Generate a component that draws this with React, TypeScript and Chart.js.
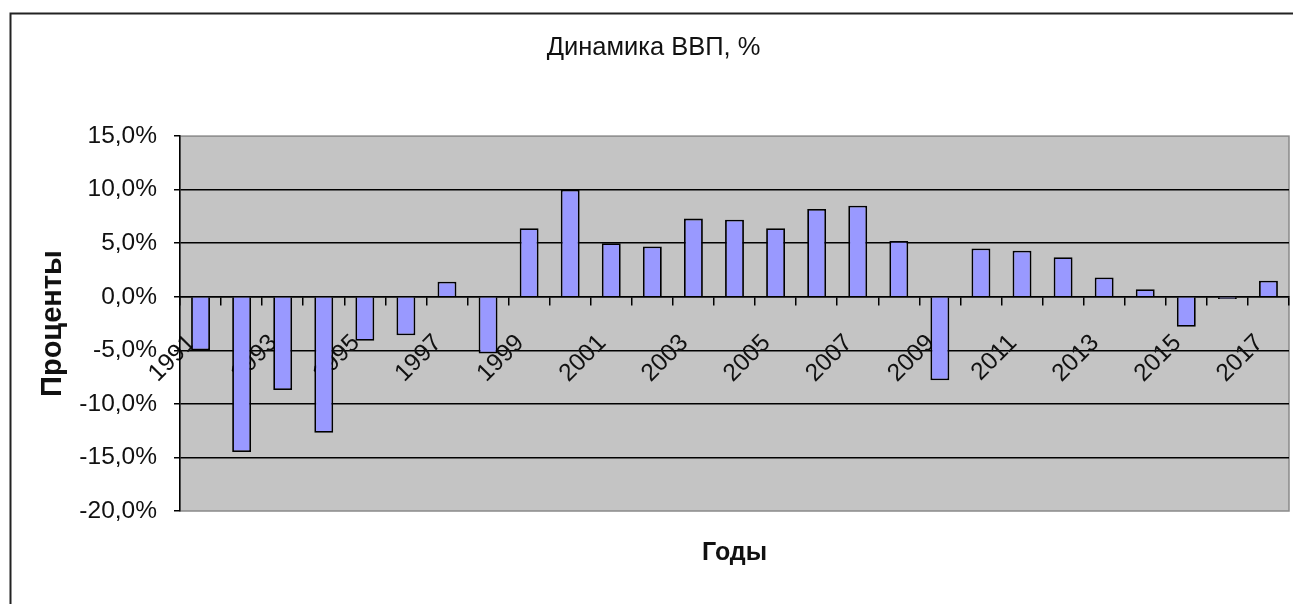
import React, { useEffect, useRef } from "react";
import { Chart, registerables } from "chart.js";

Chart.register(...registerables);

const years = [
  "1991", "1992", "1993", "1994", "1995", "1996", "1997", "1998", "1999", "2000",
  "2001", "2002", "2003", "2004", "2005", "2006", "2007", "2008", "2009", "2010",
  "2011", "2012", "2013", "2014", "2015", "2016", "2017",
];

const gdpGrowth = [
  -5.0, -14.5, -8.7, -12.7, -4.1, -3.6, 1.4, -5.3, 6.4, 10.0,
  5.0, 4.7, 7.3, 7.2, 6.4, 8.2, 8.5, 5.2, -7.8, 4.5,
  4.3, 3.7, 1.8, 0.7, -2.8, -0.2, 1.5,
];

const yMin = -20;
const yMax = 15;
const yStep = 5;

const titleText = "Динамика ВВП, %";
const xTitleText = "Годы";
const yTitleText = "Проценты";

const FONT = "'Liberation Sans', Arial, sans-serif";

const framePlugin = {
  id: "framePlugin",
  beforeDraw(chart: any) {
    const { ctx, chartArea } = chart;
    ctx.save();
    ctx.fillStyle = "#c4c4c4";
    ctx.fillRect(chartArea.left, chartArea.top, chartArea.right - chartArea.left, chartArea.bottom - chartArea.top);
    ctx.strokeStyle = "#8a8a8a";
    ctx.lineWidth = 1.5;
    ctx.strokeRect(chartArea.left, chartArea.top, chartArea.right - chartArea.left, chartArea.bottom - chartArea.top);
    ctx.restore();
  },
  afterDraw(chart: any) {
    const { ctx, width, height } = chart;
    ctx.save();
    ctx.strokeStyle = "#222";
    ctx.lineWidth = 2;
    ctx.beginPath();
    ctx.moveTo(10.5, height);
    ctx.lineTo(10.5, 13.5);
    ctx.lineTo(width, 13.5);
    ctx.stroke();
    ctx.restore();
  },
};

export default function App() {
  const canvasRef = useRef<HTMLCanvasElement | null>(null);

  useEffect(() => {
    if (!canvasRef.current) return;
    const chart = new Chart(canvasRef.current, {
      type: "bar",
      data: {
        labels: years,
        datasets: [
          {
            data: gdpGrowth,
            backgroundColor: "#9999ff",
            borderColor: "#000000",
            borderWidth: 1.8,
            barPercentage: 0.46,
            categoryPercentage: 1,
          },
        ],
      },
      options: {
        animation: false,
        responsive: false,
        devicePixelRatio: 1,
        layout: { padding: { left: 18, right: 4, top: 0, bottom: 0 } },
        plugins: {
          legend: { display: false },
          tooltip: { enabled: false },
          title: {
            display: true,
            text: titleText,
            color: "#111",
            font: { family: FONT, size: 25.5, weight: "normal" },
            padding: { top: 33, bottom: 72.5 },
          },
          subtitle: {
            display: true,
            position: "bottom",
            fullSize: false,
            text: xTitleText,
            color: "#111",
            font: { family: FONT, size: 25, weight: "bold" },
            padding: { top: 27, bottom: 36 },
          },
        },
        scales: {
          x: {
            position: { y: 0 } as any,
            offset: true,
            afterFit(scale: any) {
              scale.height = 0;
              scale.paddingLeft = 0;
              scale.paddingRight = 0;
            },
            grid: {
              offset: true,
              drawOnChartArea: false,
              drawTicks: true,
              tickLength: 8,
              color: "#000",
              lineWidth: 1.5,
            },
            border: { display: true, color: "#000", width: 1.5 },
            ticks: {
              autoSkip: false,
              maxRotation: 45,
              minRotation: 45,
              padding: 24,
              labelOffset: -9,
              color: "#111",
              font: { family: FONT, size: 24.5 },
              callback: (_v: any, i: number) => (i % 2 === 0 ? years[i] : ""),
            },
          },
          y: {
            min: yMin,
            max: yMax,
            afterFit(scale: any) {
              scale.width = 162;
            },
            ticks: {
              stepSize: yStep,
              padding: 17,
              color: "#111",
              font: { family: FONT, size: 24.5 },
              callback: (v: any) => Number(v).toFixed(1).replace(".", ",") + "%",
            },
            grid: {
              drawTicks: true,
              tickLength: 6,
              tickColor: "#000",
              lineWidth: 1.5,
              color: (c: any) =>
                c.tick && (c.tick.value === yMax || c.tick.value === yMin) ? "rgba(0,0,0,0)" : "#000",
            },
            border: { display: true, color: "#000", width: 1.5 },
            title: {
              display: true,
              text: yTitleText,
              color: "#111",
              font: { family: FONT, size: 29, weight: "bold" },
              padding: { top: 17.5, bottom: 0 },
            },
          },
        },
      },
      plugins: [framePlugin],
    });
    return () => chart.destroy();
  }, []);

  return (
    <div style={{ position: "absolute", left: 0, top: 0, width: 1293, height: 604, background: "#fff" }}>
      <canvas ref={canvasRef} width={1293} height={604} style={{ display: "block" }} />
    </div>
  );
}
